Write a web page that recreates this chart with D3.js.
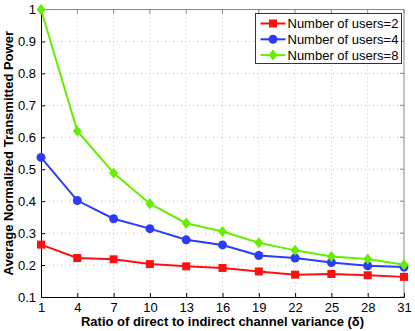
<!DOCTYPE html>
<html>
<head>
<meta charset="utf-8">
<script src="https://cdn.jsdelivr.net/npm/d3@7"></script>
<style>
  body { margin: 0; background: #fff; }
  svg { display: block; font-family: "Liberation Sans", Helvetica, Arial, sans-serif; }
</style>
</head>
<body>
<div id="Chart"></div>
<script>
const Ratios = [1, 4, 7, 10, 13, 16, 19, 22, 25, 28, 31];
const Users2 = [0.264, 0.222, 0.218, 0.203, 0.196, 0.191, 0.180, 0.170, 0.172, 0.168, 0.163];
const Users4 = [0.537, 0.402, 0.345, 0.314, 0.279, 0.263, 0.230, 0.222, 0.208, 0.198, 0.194];
const Users8 = [1.000, 0.620, 0.488, 0.392, 0.331, 0.305, 0.270, 0.246, 0.227, 0.219, 0.201];
const SeriesNames = ["Number of users=2", "Number of users=4", "Number of users=8"];
const YTicks = [0.1, 0.2, 0.3, 0.4, 0.5, 0.6, 0.7, 0.8, 0.9, 1];

const Width = 415, Height = 331;
const Margin = { top: 9.5, right: 11, bottom: 34, left: 41 };
const PlotW = Width - Margin.left - Margin.right;
const PlotH = Height - Margin.top - Margin.bottom;

const Svg = d3.select('#Chart').append('svg')
              .attr('width', Width)
              .attr('height', Height);
const G = Svg.append('g').attr('transform', `translate(${Margin.left}, ${Margin.top})`);

const xScale = d3.scaleLinear().domain([1, 31]).range([0, PlotW]);
const yScale = d3.scaleLinear().domain([0.1, 1]).range([PlotH, 0]);

// grid
G.append('g').selectAll('line').data(Ratios.slice(1, -1)).enter().append('line')
 .attr('x1', d => xScale(d)).attr('x2', d => xScale(d))
 .attr('y1', 0).attr('y2', PlotH)
 .attr('stroke', '#c8c8c8').attr('stroke-width', 1).attr('stroke-dasharray', '1,3');
G.append('g').selectAll('line').data(YTicks.slice(1, -1)).enter().append('line')
 .attr('x1', 0).attr('x2', PlotW)
 .attr('y1', d => yScale(d)).attr('y2', d => yScale(d))
 .attr('stroke', '#c8c8c8').attr('stroke-width', 1).attr('stroke-dasharray', '1,3');

// box top/right
G.append('line').attr('x1', 0).attr('x2', PlotW).attr('y1', 0).attr('y2', 0)
 .attr('stroke', '#888').attr('stroke-width', 1);
G.append('line').attr('x1', PlotW).attr('x2', PlotW).attr('y1', 0).attr('y2', PlotH)
 .attr('stroke', '#888').attr('stroke-width', 1);
// mirrored ticks
G.append('g').selectAll('line').data(Ratios).enter().append('line')
 .attr('x1', d => xScale(d)).attr('x2', d => xScale(d)).attr('y1', 0).attr('y2', 4)
 .attr('stroke', '#888');
G.append('g').selectAll('line').data(YTicks).enter().append('line')
 .attr('x1', PlotW).attr('x2', PlotW - 4).attr('y1', d => yScale(d)).attr('y2', d => yScale(d))
 .attr('stroke', '#888');

// axes
const xAxis = G.append('g')
               .attr('transform', `translate(0, ${PlotH})`)
               .call(d3.axisBottom(xScale).tickValues(Ratios).tickSizeInner(-4).tickSizeOuter(0).tickPadding(6).tickFormat(d3.format('d')));
const yAxis = G.append('g')
               .call(d3.axisLeft(yScale).tickValues(YTicks).tickSizeInner(-4).tickSizeOuter(0).tickPadding(5).tickFormat(d => d === 1 ? '1' : d3.format('.1f')(d)));
[xAxis, yAxis].forEach(a => {
    a.selectAll('text').style('font-size', '13px').style('font-family', '"Liberation Sans", Helvetica, Arial, sans-serif').attr('fill', '#000');
    a.select('.domain').attr('stroke', '#000');
    a.selectAll('.tick line').attr('stroke', '#000');
});

// series
const Series = [
    { Name: SeriesNames[0], Values: Users2, Color: '#ff1010', Marker: 'square' },
    { Name: SeriesNames[1], Values: Users4, Color: '#2b3cff', Marker: 'circle' },
    { Name: SeriesNames[2], Values: Users8, Color: '#66ee00', Marker: 'diamond' }
];
const Line = d3.line().x(d => xScale(d[0])).y(d => yScale(d[1]));

function DrawMarker(Sel, Marker, Color)
{
    if (Marker === 'square')
        Sel.append('rect').attr('x', -4).attr('y', -4).attr('width', 8).attr('height', 8).attr('fill', Color);
    else if (Marker === 'circle')
        Sel.append('circle').attr('r', 4.5).attr('fill', Color);
    else
        Sel.append('path').attr('d', 'M0,-5.5L4.5,0L0,5.5L-4.5,0Z').attr('fill', Color);
}

Series.forEach(s => {
    const Pts = Ratios.map((r, i) => [r, s.Values[i]]);
    G.append('path').datum(Pts).attr('d', Line)
     .attr('fill', 'none').attr('stroke', s.Color).attr('stroke-width', 2);
    Pts.forEach(p => {
        const M = G.append('g').attr('transform', `translate(${xScale(p[0])}, ${yScale(p[1])})`);
        DrawMarker(M, s.Marker, s.Color);
    });
});

// legend
const Legend = Svg.append('g').attr('transform', 'translate(255.5, 13.5)');
Legend.append('rect').attr('width', 146).attr('height', 50)
      .attr('fill', '#fff').attr('stroke', '#333').attr('stroke-width', 1);
Series.forEach((s, i) => {
    const Row = Legend.append('g').attr('transform', `translate(0, ${10 + i * 15.8})`);
    Row.append('line').attr('x1', 5).attr('x2', 30).attr('y1', 0).attr('y2', 0)
       .attr('stroke', s.Color).attr('stroke-width', 2);
    const M = Row.append('g').attr('transform', 'translate(17.5, 0)');
    DrawMarker(M, s.Marker, s.Color);
    Row.append('text').attr('x', 32).attr('y', 0).attr('dy', '0.35em')
       .style('font-size', '13px').text(s.Name);
});

// axis labels
Svg.append('text')
   .attr('x', Margin.left + PlotW / 2).attr('y', 326)
   .attr('text-anchor', 'middle').style('font-size', '13px').style('font-weight', 'bold')
   .text('Ratio of direct to indirect channel variance (δ)');
Svg.append('text')
   .attr('transform', `translate(13, ${Margin.top + PlotH / 2}) rotate(-90)`)
   .attr('text-anchor', 'middle').style('font-size', '13px').style('font-weight', 'bold')
   .text('Average Normalized Transmitted Power');
</script>
</body>
</html>
